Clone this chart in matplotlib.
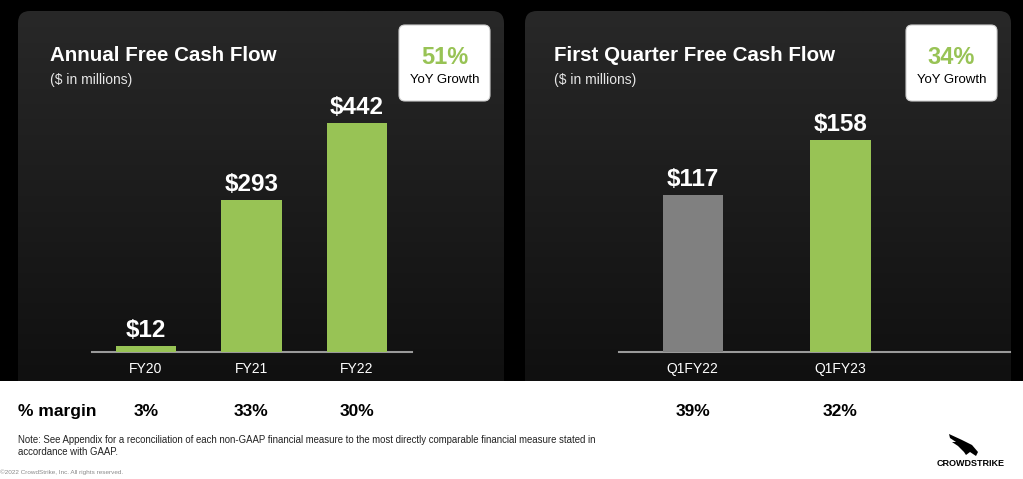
import numpy as np
import matplotlib
matplotlib.use("Agg")
import matplotlib.pyplot as plt
from matplotlib.patches import FancyBboxPatch, Rectangle, Polygon
from matplotlib.colors import LinearSegmentedColormap
import matplotlib.transforms as mtransforms

plt.rcParams['font.family'] = ['Liberation Sans', 'DejaVu Sans']

# data
annual_labels = ["FY20", "FY21", "FY22"]
annual_fcf = [12, 293, 442]
annual_margin = ["3%", "33%", "30%"]
annual_growth = "51%"

q1_labels = ["Q1FY22", "Q1FY23"]
q1_fcf = [117, 158]
q1_margin = ["39%", "32%"]
q1_growth = "34%"

GREEN = "#98C355"
GREY_BAR = "#808080"
W, H = 1023, 479

fig = plt.figure(figsize=(W / 100, H / 100), dpi=100)
fig.patch.set_facecolor("black")

# background axes in pixel coordinates
bg = fig.add_axes([0, 0, 1, 1])
bg.set_xlim(0, W)
bg.set_ylim(H, 0)
bg.axis("off")

cmap = LinearSegmentedColormap.from_list("panel", ["#282828", "#101010"])
grad = np.linspace(0, 1, 256).reshape(-1, 1)
for x0, x1 in [(18, 504), (525, 1011)]:
    panel = FancyBboxPatch((x0, 11), x1 - x0, 420, boxstyle="round,pad=0,rounding_size=12",
                           facecolor="none", edgecolor="none")
    bg.add_patch(panel)
    im = bg.imshow(grad, extent=[x0, x1, 381, 11], cmap=cmap, aspect="auto",
                   origin="upper", zorder=1)
    im.set_clip_path(panel)
bg.set_xlim(0, W)
bg.set_ylim(H, 0)

# white footer
bg.add_patch(Rectangle((0, 381), W, H - 381, facecolor="white", edgecolor="none", zorder=2))

# titles
bg.text(50, 55, "Annual Free Cash Flow", color="white", fontsize=14.8, fontweight="bold",
        va="center", ha="left", zorder=3)
bg.text(50, 80, "($ in millions)", color="#e6e6e6", fontsize=10, va="center", ha="left", zorder=3)
bg.text(554, 55, "First Quarter Free Cash Flow", color="white", fontsize=14.8, fontweight="bold",
        va="center", ha="left", zorder=3)
bg.text(554, 80, "($ in millions)", color="#e6e6e6", fontsize=10, va="center", ha="left", zorder=3)

# growth boxes
for bx, txt in [(399, annual_growth), (906, q1_growth)]:
    bg.add_patch(FancyBboxPatch((bx, 25), 91, 76, boxstyle="round,pad=0,rounding_size=6",
                                facecolor="white", edgecolor="#d0d0d0", linewidth=0.8, zorder=3))
    bg.text(bx + 45.5, 57, txt, color=GREEN, fontsize=17, fontweight="bold",
            ha="center", va="center", zorder=4)
    bg.text(bx + 45.5, 80, "YoY Growth", color="black", fontsize=9.5,
            ha="center", va="center", zorder=4)


def bar_panel(rect, labels, values, colors, width, xlim, ytop):
    ax = fig.add_axes(rect)
    ax.set_facecolor("none")
    x = np.arange(len(values))
    ax.bar(x, values, width=width, color=colors, zorder=3)
    for i, v in zip(x, values):
        ax.annotate(f"${v}", (i, v), xytext=(0, 3), textcoords="offset points",
                    ha="center", va="bottom", color="white", fontsize=17.5, fontweight="bold")
    ax.set_xlim(*xlim)
    ax.set_ylim(0, ytop)
    for s in ["top", "right", "left"]:
        ax.spines[s].set_visible(False)
    ax.spines["bottom"].set_color("#9a9a9a")
    ax.spines["bottom"].set_linewidth(1.5)
    ax.set_yticks([])
    ax.set_xticks(x)
    ax.set_xticklabels(labels, color="white", fontsize=10)
    ax.tick_params(axis="x", length=0, pad=7)
    return ax


ax1 = bar_panel([92 / W, 1 - 352 / H, 320 / W, 252 / H], annual_labels, annual_fcf,
                [GREEN] * 3, 0.57, (-0.51, 2.52), 442 * 252 / 229)
ax2 = bar_panel([619 / W, 1 - 352 / H, 391 / W, 252 / H], q1_labels, q1_fcf,
                [GREY_BAR, GREEN], 0.41, (-0.5, 2.15), 158 * 252 / 212)

# margin row
MARGIN_Y = 1 - 416 / H
fig.text(18 / W, MARGIN_Y, "% margin", color="black", fontsize=12.5, fontweight="bold",
         ha="left", va="baseline")
for ax, margins in [(ax1, annual_margin), (ax2, q1_margin)]:
    tr = mtransforms.blended_transform_factory(ax.transData, fig.transFigure)
    for i, m in enumerate(margins):
        ax.text(i, MARGIN_Y, m, transform=tr, color="black", fontsize=12.5,
                fontweight="bold", ha="center", va="baseline", clip_on=False)

# notes
bg.text(18, 440, "Note: See Appendix for a reconciliation of each non-GAAP financial measure to the most "
        "directly comparable financial measure stated in", color="#222222", fontsize=6.9,
        ha="left", va="center", zorder=3)
bg.text(18, 452, "accordance with GAAP.", color="#222222", fontsize=6.9,
        ha="left", va="center", zorder=3)
bg.text(0, 472, "\u00a92022 CrowdStrike, Inc. All rights reserved.", color="#8a8a8a", fontsize=4.6,
        ha="left", va="center", zorder=3)

# logo
bg.text(971, 463, "CROWDSTRIKE", color="black", fontsize=6.5, fontweight="bold",
        ha="center", va="center", zorder=3)
falcon = [(949, 434), (962, 440), (972, 445), (978, 452), (976, 456), (970, 452),
          (966, 455), (964, 452), (958, 446), (952, 442), (956, 442), (950, 438)]
bg.add_patch(Polygon(falcon, closed=True, facecolor="black", edgecolor="none", zorder=3))

fig.savefig("out.png", dpi=100, facecolor=fig.get_facecolor())
